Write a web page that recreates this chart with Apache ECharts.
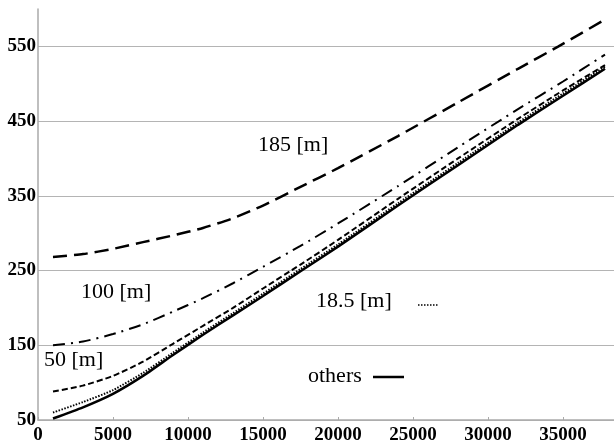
<!DOCTYPE html>
<html><head><meta charset="utf-8">
<script src="https://cdn.jsdelivr.net/npm/echarts@6/dist/echarts.min.js"></script>
<style>html,body{margin:0;padding:0;background:#fff}#c{width:614px;height:445px}</style>
</head><body><div id="c"></div>
<script>
// x positions (distance) and values per series
const xTicks = [0, 5000, 10000, 15000, 20000, 25000, 30000, 35000];
const yTicks = [50, 150, 250, 350, 450, 550];

const x185 = [1000, 3000, 5000, 7000, 9000, 11000, 13000, 15000, 17500, 20000, 24000, 28000, 32000, 34700, 37800];
const y185 = [268, 272, 279, 288, 297, 307, 320, 337, 362, 387, 430, 475, 520, 550, 586];

const xCommon = [1000, 3000, 5000, 7000, 9000, 11000, 13000, 15000, 17500, 20000, 24000, 28000, 32000, 35000, 37800];
const y100 = [150, 155, 165, 178, 195, 213, 233, 255, 283, 313, 363, 415, 466, 503, 539];
const y50 = [88, 96, 109, 128, 152, 176, 200, 226, 258, 291, 346, 400, 453, 491, 525];
const y18_5 = [60, 74, 90, 113, 140, 167, 193, 219, 252, 285, 340, 394, 448, 487, 523];
const yOthers = [52, 67, 85, 109, 137, 164, 190, 216, 249, 282, 337, 391, 445, 484, 520];

const labels = ['185 [m]', '100 [m]', '50 [m]', '18.5 [m]', 'others'];

function pairs(xs, ys) { return xs.map((x, i) => [x, ys[i]]); }

const chart = echarts.init(document.getElementById('c'), null, {renderer: 'canvas'});
const serif = 'Liberation Serif, Times New Roman, serif';
const lineBase = {type: 'line', symbol: 'none', smooth: 0.2, silent: true};

chart.setOption({
  animation: false,
  backgroundColor: '#fff',
  grid: {left: 38, right: 0, top: 9, bottom: 24, containLabel: false},
  xAxis: {
    type: 'value', min: 0, max: 38400, interval: 5000,
    axisLine: {show: true, lineStyle: {color: '#aaa', width: 1.5}},
    axisTick: {show: true, inside: true, length: 3, lineStyle: {color: '#aaa'}},
    splitLine: {show: false},
    axisLabel: {showMaxLabel: false, margin: 6, color: '#000', fontFamily: serif, fontWeight: 'bold', fontSize: 19,
      formatter: v => xTicks.includes(v) ? String(v) : ''}
  },
  yAxis: {
    type: 'value', min: 50, max: 600, interval: 100,
    axisLine: {show: true, lineStyle: {color: '#aaa', width: 1.5}},
    axisTick: {show: false},
    splitLine: {show: true, showMaxLine: false, lineStyle: {color: '#b4b4b4', width: 1}},
    axisLabel: {showMaxLabel: false, margin: 2, color: '#000', fontFamily: serif, fontWeight: 'bold', fontSize: 19,
      formatter: v => yTicks.includes(v) ? String(v) : ''}
  },
  series: [
    Object.assign({}, lineBase, {name: labels[0], data: pairs(x185, y185), lineStyle: {color: '#000', width: 2.5, type: [14, 7]}}),
    Object.assign({}, lineBase, {name: labels[1], data: pairs(xCommon, y100), lineStyle: {color: '#000', width: 2, type: [12, 6, 2, 6]}}),
    Object.assign({}, lineBase, {name: labels[2], data: pairs(xCommon, y50), lineStyle: {color: '#000', width: 2, type: [6, 3]}}),
    Object.assign({}, lineBase, {name: labels[3], data: pairs(xCommon, y18_5), lineStyle: {color: '#000', width: 2, type: [1.5, 1.5]}}),
    Object.assign({}, lineBase, {name: labels[4], data: pairs(xCommon, yOthers), lineStyle: {color: '#000', width: 2.5, type: 'solid'}})
  ],
  graphic: [
    {type: 'text', left: 258, top: 134, style: {text: labels[0], font: '22px ' + serif, fill: '#000'}},
    {type: 'text', left: 81, top: 281, style: {text: labels[1], font: '22px ' + serif, fill: '#000'}},
    {type: 'text', left: 44, top: 349, style: {text: labels[2], font: '22px ' + serif, fill: '#000'}},
    {type: 'text', left: 316, top: 290, style: {text: labels[3], font: '22px ' + serif, fill: '#000'}},
    {type: 'line', shape: {x1: 418, y1: 305, x2: 438, y2: 305}, style: {stroke: '#000', lineWidth: 1.5, lineDash: [1.5, 1.5]}},
    {type: 'text', left: 308, top: 365, style: {text: labels[4], font: '22px ' + serif, fill: '#000'}},
    {type: 'line', shape: {x1: 373, y1: 377, x2: 404, y2: 377}, style: {stroke: '#000', lineWidth: 2.5}}
  ]
});
</script></body></html>
